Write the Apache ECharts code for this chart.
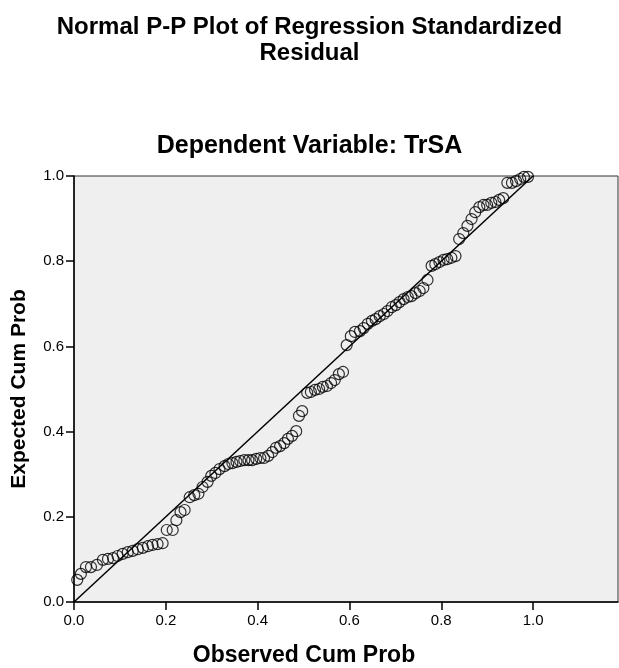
<!DOCTYPE html>
<html>
<head>
<meta charset="utf-8">
<script src="https://cdn.jsdelivr.net/npm/echarts@6/dist/echarts.min.js"></script>
<style>
html,body{margin:0;padding:0;background:#fff;}
#chart{width:619px;height:668px;}
</style>
</head>
<body>
<div id="chart"></div>
<script>
var observedCumProb = [0.007,0.015,0.026,0.037,0.050,0.063,0.074,0.085,0.095,0.106,
0.117,0.128,0.139,0.150,0.161,0.171,0.182,0.193,0.202,0.215,
0.223,0.232,0.241,0.252,0.262,0.271,0.280,0.291,0.299,0.308,
0.317,0.328,0.336,0.345,0.354,0.362,0.371,0.380,0.388,0.397,
0.406,0.414,0.423,0.432,0.440,0.449,0.458,0.466,0.475,0.484,
0.490,0.497,0.508,0.516,0.525,0.534,0.542,0.551,0.560,0.568,
0.577,0.586,0.594,0.603,0.612,0.623,0.631,0.640,0.649,0.657,
0.666,0.675,0.683,0.692,0.701,0.709,0.718,0.727,0.735,0.744,
0.753,0.761,0.770,0.779,0.787,0.796,0.805,0.813,0.822,0.831,
0.839,0.848,0.857,0.866,0.874,0.883,0.892,0.900,0.909,0.918,
0.926,0.935,0.944,0.954,0.963,0.972,0.980,0.989];
var expectedCumProb = [0.052,0.066,0.082,0.082,0.087,0.099,0.101,0.103,0.108,0.113,
0.117,0.120,0.124,0.127,0.131,0.134,0.136,0.138,0.169,0.169,
0.192,0.211,0.216,0.246,0.251,0.254,0.270,0.282,0.296,0.303,
0.312,0.319,0.324,0.326,0.329,0.331,0.333,0.333,0.333,0.336,
0.338,0.338,0.343,0.352,0.362,0.366,0.373,0.383,0.390,0.401,
0.437,0.448,0.491,0.493,0.498,0.500,0.505,0.507,0.514,0.521,
0.535,0.540,0.603,0.624,0.634,0.636,0.643,0.653,0.660,0.664,
0.671,0.676,0.683,0.692,0.697,0.704,0.711,0.716,0.718,0.725,
0.730,0.737,0.756,0.789,0.793,0.798,0.803,0.805,0.808,0.812,
0.852,0.866,0.883,0.899,0.915,0.927,0.932,0.932,0.937,0.939,
0.944,0.948,0.984,0.984,0.988,0.993,0.998,0.998];
var referenceLine = [0, 1];
var xTicks = [0.0, 0.2, 0.4, 0.6, 0.8, 1.0];
var yTicks = [0.0, 0.2, 0.4, 0.6, 0.8, 1.0];

var points = observedCumProb.map(function(x, i){ return [x, expectedCumProb[i]]; });
var lineData = referenceLine.map(function(v){ return [v, v]; });

var chart = echarts.init(document.getElementById('chart'), null, {renderer:'canvas'});
var font = 'Arial, "Liberation Sans", Helvetica, sans-serif';
chart.setOption({
  backgroundColor: '#ffffff',
  animation: false,
  title: [
    {text: 'Normal P-P Plot of Regression Standardized\nResidual', left: 'center', top: 9,
     textStyle: {fontFamily: font, fontWeight: 'bold', fontSize: 24, color: '#000', lineHeight: 26}},
    {text: 'Dependent Variable: TrSA', left: 'center', top: 129,
     textStyle: {fontFamily: font, fontWeight: 'bold', fontSize: 25, color: '#000'}}
  ],
  graphic: [
    {type: 'text', x: 304, y: 656,
     style: {text: 'Observed Cum Prob', textAlign: 'center', textVerticalAlign: 'middle',
             font: 'bold 23px Arial, "Liberation Sans", sans-serif', fill: '#000'}}
  ],
  grid: {left: 74, top: 176, right: 1, bottom: 66, show: true, backgroundColor: '#efefef',
         borderColor: '#333', borderWidth: 1},
  xAxis: {
    type: 'value', min: 0, max: 1.185, interval: 0.2,
    axisLine: {show: true, onZero: false, lineStyle: {color: '#000', width: 1.5}},
    axisTick: {show: true, inside: false, length: 8, customValues: xTicks,
               lineStyle: {color: '#000', width: 1.5}},
    axisLabel: {fontFamily: font, fontSize: 15, color: '#000', margin: 11, customValues: xTicks,
      formatter: function(v){ return v.toFixed(1); }},
    splitLine: {show: false}
  },
  yAxis: {
    type: 'value', min: 0, max: 1, interval: 0.2,
    name: 'Expected Cum Prob', nameLocation: 'middle', nameGap: 44, nameRotate: 90,
    nameTextStyle: {fontFamily: font, fontWeight: 'bold', fontSize: 21, color: '#000'},
    axisLine: {show: true, onZero: false, lineStyle: {color: '#000', width: 1.5}},
    axisTick: {show: true, inside: false, length: 8, customValues: yTicks,
               lineStyle: {color: '#000', width: 1.5}},
    axisLabel: {fontFamily: font, fontSize: 15, color: '#000', margin: 10, customValues: yTicks,
      formatter: function(v){ return v.toFixed(1); }},
    splitLine: {show: false}
  },
  series: [
    {type: 'line', data: lineData, symbol: 'none', silent: true,
     lineStyle: {color: '#000', width: 1.5}, z: 2},
    {type: 'scatter', data: points, symbol: 'circle', symbolSize: 11,
     itemStyle: {color: 'rgba(0,0,0,0)', borderColor: '#000', borderWidth: 1.2}, z: 3}
  ]
});
</script>
</body>
</html>
